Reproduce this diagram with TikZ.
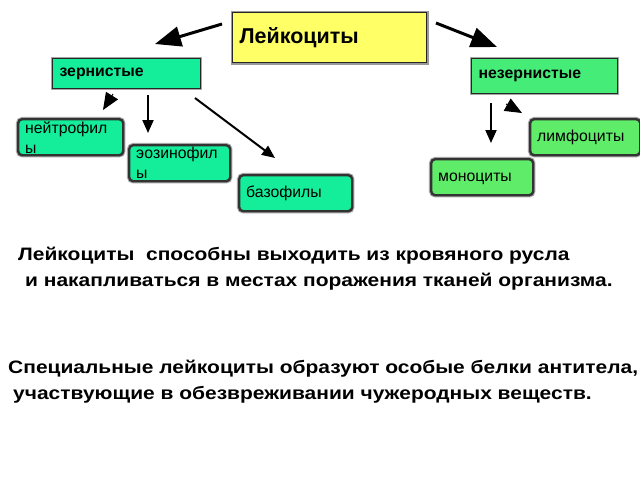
\documentclass[tikz,border=0pt]{standalone}
\usepackage{fontspec}
\setmainfont{Liberation Sans}
\usetikzlibrary{arrows.meta,calc}
\definecolor{yel}{RGB}{255,255,102}
\definecolor{aq}{RGB}{20,238,155}
\definecolor{grA}{RGB}{70,236,120}
\definecolor{grB}{RGB}{95,236,105}
\newcommand{\wide}[1]{\scalebox{1.165}[1]{#1}}
\begin{document}
\begin{tikzpicture}[x=1pt,y=-1pt,
  sqbox/.style={draw=black!85, line width=1.2pt, anchor=north west, inner xsep=7pt, inner ysep=0pt,
    align=left, font=\bfseries\fontsize{15.8}{18}\selectfont, preaction={draw=black!35, line width=3pt}},
  rbox/.style={draw=black!80, line width=2.4pt, rounded corners=4pt, anchor=north west, inner xsep=7pt, inner ysep=0pt,
    align=left, font=\fontsize{15.8}{20}\selectfont, preaction={draw=black!35, line width=4.5pt}},
  bigarr/.style={line width=3pt, -{Triangle[length=26pt,width=20pt]}},
  smarr/.style={line width=2pt, -{Triangle[length=13pt,width=11pt]}},
  headonly/.style={line width=1pt, -{Triangle[length=17pt,width=14pt]}},
  txt/.style={anchor=base west, inner sep=0pt, font=\bfseries\fontsize{18}{22}\selectfont}]
\fill[white] (0,0) rectangle (640,480);
\useasboundingbox (0,0) rectangle (640,480);

\node[sqbox, fill=yel, text width=180pt, minimum height=50pt, font=\bfseries\fontsize{21.5}{24}\selectfont,
  preaction={draw=black!40, line width=4pt}] (leu) at (232,12) {Лейкоциты};
\node[sqbox, fill=aq, text width=134pt, minimum height=30pt] (zer) at (52,58) {зернистые};
\node[sqbox, fill=grA, text width=132pt, minimum height=35pt] (nez) at (471,58) {незернистые};

\node[rbox, fill=aq, text width=91pt, minimum height=36pt] (neu) at (17,118) {нейтрофил\\ы};
\node[rbox, fill=aq, text width=87pt, minimum height=36pt] (eos) at (128,144) {эозинофил\\ы};
\node[rbox, fill=aq, text width=99pt, minimum height=36pt] (bas) at (238,174) {базофилы};
\node[rbox, fill=grB, text width=96pt, minimum height=36pt] (lim) at (529,118) {лимфоциты};
\node[rbox, fill=grB, text width=88pt, minimum height=36pt, text depth=-2pt] (mon) at (430,158) {моноциты};

\coordinate (a1s) at (222,24); \coordinate (a1e) at (155,44);
\coordinate (a2s) at (436,23); \coordinate (a2e) at (497,47);
\coordinate (a3s) at (148,95); \coordinate (a3e) at (148,133);
\coordinate (a4s) at (195,98); \coordinate (a4e) at (275,158);
\coordinate (a5s) at (491,103); \coordinate (a5e) at (491,143);
\coordinate (h1s) at (113,94); \coordinate (h1e) at (103,110);
\coordinate (h2s) at (506,104); \coordinate (h2e) at (522,113);

\draw[bigarr] (a1s) -- (a1e);
\draw[bigarr] (a2s) -- (a2e);
\draw[smarr] (a3s) -- (a3e);
\draw[smarr] (a4s) -- (a4e);
\draw[smarr] (a5s) -- (a5e);
\draw[headonly] (h1s) -- (h1e);
\draw[headonly] (h2s) -- (h2e);

\node[txt] (t1) at (18,260) {\wide{Лейкоциты\ \ способны выходить из кровяного русла}};
\node[txt] (t2) at (25,286) {\wide{и накапливаться в местах поражения тканей организма.}};
\node[txt] (t3) at (8,373) {\wide{Специальные лейкоциты образуют особые белки антитела,}};
\node[txt] (t4) at (13,399) {\wide{участвующие в обезвреживании чужеродных веществ.}};
\end{tikzpicture}
\end{document}
